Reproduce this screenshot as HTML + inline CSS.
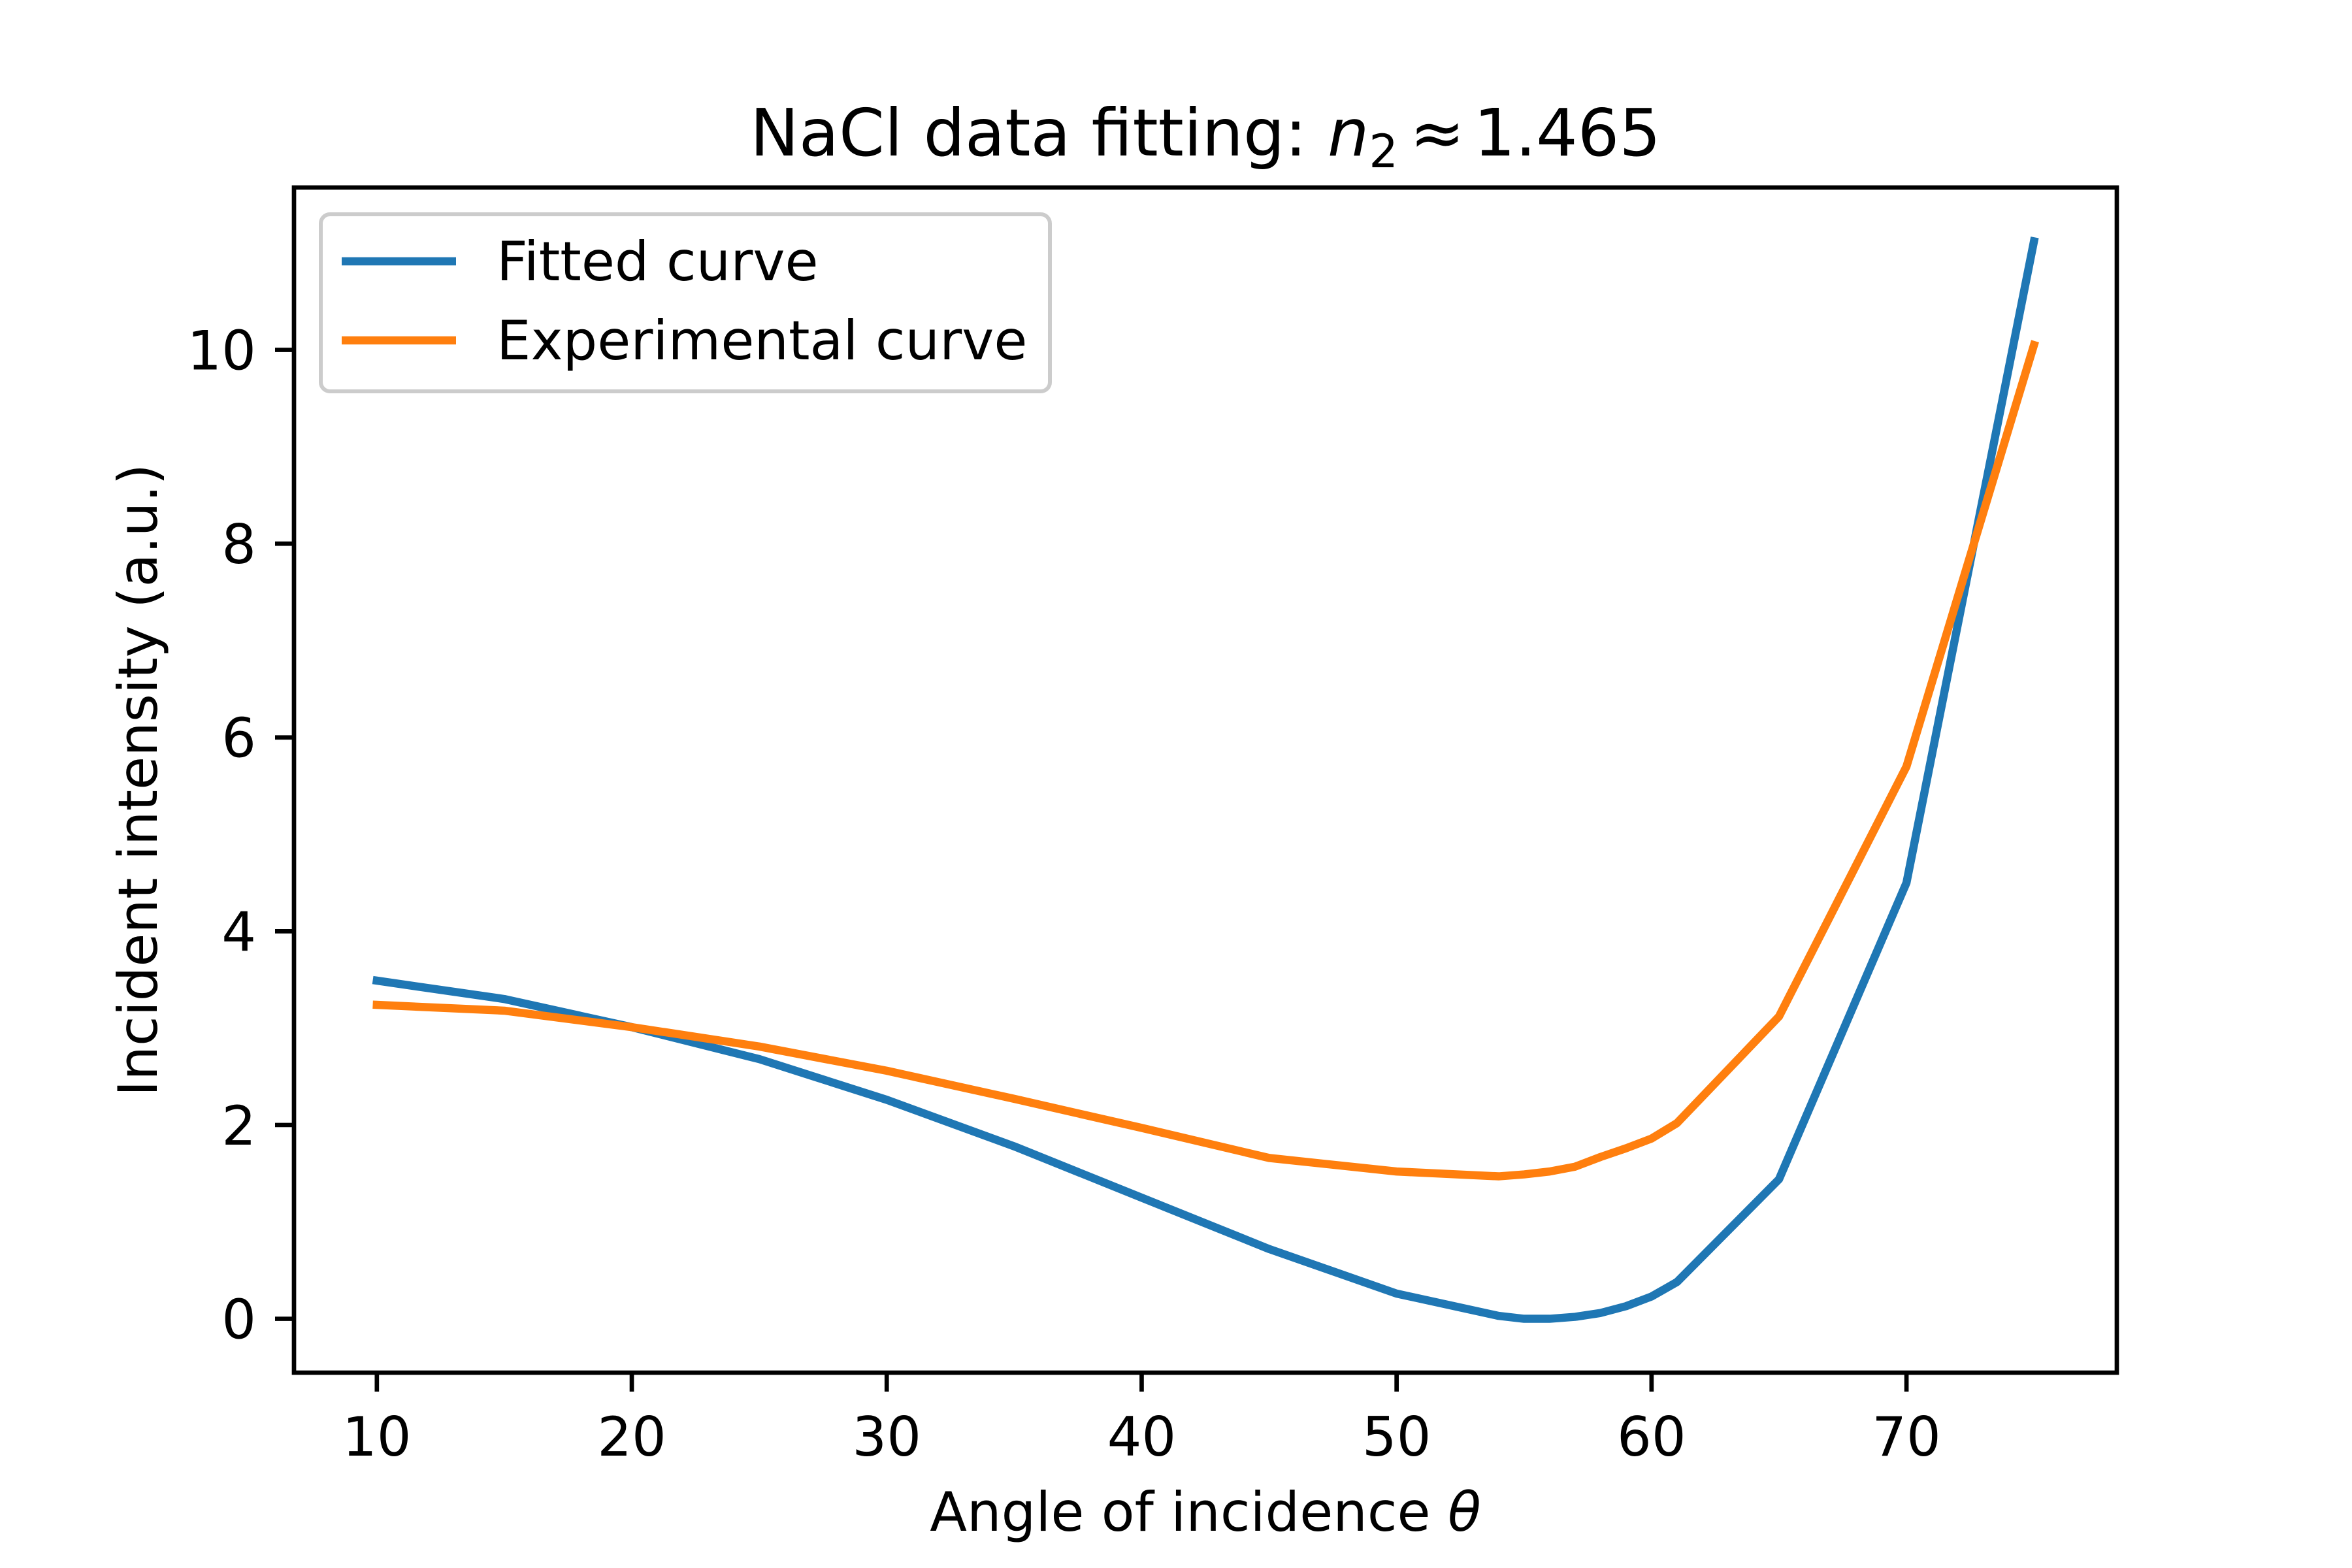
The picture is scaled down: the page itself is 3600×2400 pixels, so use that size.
<!DOCTYPE html>
<html><head><meta charset="utf-8"><style>
html,body{margin:0;padding:0;background:#fff}
svg{display:block;font-family:"DejaVu Sans","Liberation Sans",sans-serif}
</style></head><body>
<svg id="chart" width="3600" height="2400" viewBox="0 0 3600 2400" xmlns="http://www.w3.org/2000/svg">
<rect x="0" y="0" width="3600" height="2400" fill="#fff"/>
<text x="1845" y="238" font-size="100" text-anchor="middle">NaCl data fitting: <tspan font-style="italic">n</tspan><tspan font-size="70" dy="18">2</tspan><tspan dy="-18" dx="18">≈</tspan><tspan dx="14">1.465</tspan></text>
<g id="plot"></g>
<text x="1845" y="2343" font-size="83" text-anchor="middle">Angle of incidence <tspan font-style="italic">θ</tspan></text>
<text transform="translate(240,1194) rotate(-90)" font-size="83" text-anchor="middle">Incident intensity (a.u.)</text>
<g>
<rect x="491" y="328" width="1116" height="271" rx="14" fill="#fff" fill-opacity="0.8" stroke="#ccc" stroke-width="6"/>
<line x1="523" y1="400" x2="698" y2="400" stroke="#1f77b4" stroke-width="12.5"/>
<text x="760" y="429" font-size="83">Fitted curve</text>
<line x1="523" y1="521" x2="698" y2="521" stroke="#ff7f0e" stroke-width="12.5"/>
<text x="760" y="550" font-size="83">Experimental curve</text>
</g>
</svg>
<script>
const angles = [10,15,20,25,30,35,40,45,50,54,55,56,57,58,59,60,61,65,70,75];
const fitted = [3.49,3.30,3.01,2.68,2.26,1.78,1.25,0.72,0.26,0.03,0.0,0.0,0.02,0.06,0.13,0.23,0.38,1.44,4.5,11.12];
const experimental = [3.24,3.18,3.01,2.81,2.56,2.27,1.97,1.66,1.52,1.47,1.49,1.52,1.57,1.67,1.76,1.86,2.02,3.12,5.7,10.05];
const xTicks = [10,20,30,40,50,60,70];
const yTicks = [0,2,4,6,8,10];

const L=450,R=3240,T=287,B=2101;
const xmin=6.75,xmax=78.25,ymin=-0.556,ymax=11.676;
const sx=v=>L+(v-xmin)/(xmax-xmin)*(R-L);
const sy=v=>B-(v-ymin)/(ymax-ymin)*(B-T);
const NS="http://www.w3.org/2000/svg";
const g=document.getElementById('plot');
function mk(t,a){const e=document.createElementNS(NS,t);for(const k in a)e.setAttribute(k,a[k]);g.appendChild(e);return e;}
function series(ys,color,name){
  const p=mk('polyline',{points:angles.map((x,i)=>sx(x)+','+sy(ys[i])).join(' '),fill:'none',stroke:color,'stroke-width':12.5,'stroke-linejoin':'round','stroke-linecap':'square'});
  
  
}
series(fitted,'#1f77b4','fitted-curve');
series(experimental,'#ff7f0e','experimental-curve');
const fr=mk('rect',{x:L,y:T,width:R-L,height:B-T,fill:'none',stroke:'#000','stroke-width':6.7});


xTicks.forEach(v=>{
  const l=mk('line',{x1:sx(v),x2:sx(v),y1:B,y2:B+29,stroke:'#000','stroke-width':6.7});
  
  
  const t=mk('text',{x:sx(v),y:B+127,'font-size':83,'text-anchor':'middle'});
  t.textContent=v;
  
  
});
yTicks.forEach(v=>{
  const l=mk('line',{x1:L-29,x2:L,y1:sy(v),y2:sy(v),stroke:'#000','stroke-width':6.7});
  
  
  const t=mk('text',{x:L-58,y:sy(v)+30,'font-size':83,'text-anchor':'end'});
  t.textContent=v;
  
  
});
</script>
</body></html>
